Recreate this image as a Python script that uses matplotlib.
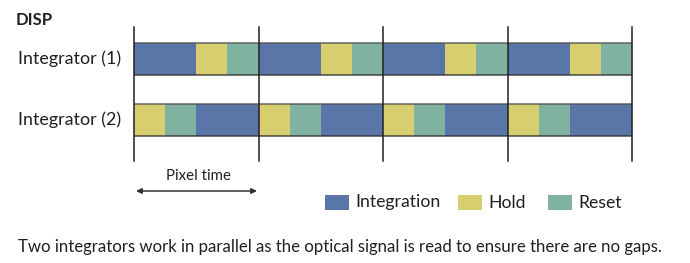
import matplotlib
matplotlib.use("Agg")
import matplotlib.pyplot as plt
from matplotlib.patches import Rectangle

plt.rcParams['font.family'] = ['Lato', 'DejaVu Sans']

# data: one pixel period split into phases (fraction of the pixel time)
n_pixels = 4
rows = ["Integrator (1)", "Integrator (2)"]
int1_phases = ["Integration", "Hold", "Reset"]
int1_lengths = [0.5, 0.25, 0.25]
int2_phases = ["Hold", "Reset", "Integration"]
int2_lengths = [0.25, 0.25, 0.5]
legend_labels = ["Integration", "Hold", "Reset"]
caption = ("Two integrators work in parallel as the optical signal is read "
           "to ensure there are no gaps.")

colors = {"Integration": "#5a76a9", "Hold": "#d7ce70", "Reset": "#80b2a1"}
text_color = "#231f20"

W, H = 690, 263
fig = plt.figure(figsize=(W / 100, H / 100), dpi=100)

# overlay in pixel coords for text / legend
bg = fig.add_axes([0, 0, 1, 1])
bg.set_xlim(0, W)
bg.set_ylim(H, 0)
bg.axis('off')

# timing axes: x in pixel-time units, y in image pixels
x0, x1 = 134, 632
y_top, y_bot = 27, 161
ax = fig.add_axes([x0 / W, 1 - y_bot / H, (x1 - x0) / W, (y_bot - y_top) / H])
ax.set_xlim(0, n_pixels)
ax.set_ylim(y_bot, y_top)
ax.axis('off')

row_y = [(43, 32), (103.5, 32)]
for (phases, lengths), (yb, h) in zip([(int1_phases, int1_lengths),
                                       (int2_phases, int2_lengths)], row_y):
    for p in range(n_pixels):
        start = p
        for ph, ln in zip(phases, lengths):
            ax.broken_barh([(start, ln)], (yb, h), facecolors=colors[ph],
                           edgecolor='none')
            start += ln
    # thin dark border top/bottom
    ax.plot([0, n_pixels], [yb, yb], color="#505050", lw=1.2, alpha=0.8)
    ax.plot([0, n_pixels], [yb + h, yb + h], color="#303030", lw=1.2, alpha=0.8)

for p in range(n_pixels + 1):
    ax.plot([p, p], [y_top, y_bot], color="#231f20", lw=1.1, clip_on=False)

# row labels
for lab, (yb, h) in zip(rows, row_y):
    bg.text(121, yb + h / 2, lab, ha='right', va='center', fontsize=12.9,
            color=text_color)

bg.text(16, 20, "DISP", ha='left', va='center', fontsize=12, weight='bold',
        color=text_color)

# pixel time arrow
bg.annotate("", xy=(136, 191), xytext=(257, 191),
            arrowprops=dict(arrowstyle="<|-|>", color="#333333", lw=1.1,
                            mutation_scale=8, shrinkA=0, shrinkB=0))
bg.text(199, 176, "Pixel time", ha='center', va='center', fontsize=10.8,
        color=text_color)

# legend
leg_x = [325, 458, 548]
for lab, lx in zip(legend_labels, leg_x):
    bg.add_patch(Rectangle((lx, 195), 24, 15, facecolor=colors[lab],
                           edgecolor='none'))
    bg.text(lx + 30, 202.5, lab, ha='left', va='center', fontsize=12.7,
            color=text_color)

bg.text(18, 247, caption, ha='left', va='center', fontsize=12.1,
        color=text_color)

fig.savefig("out.png", dpi=100)
